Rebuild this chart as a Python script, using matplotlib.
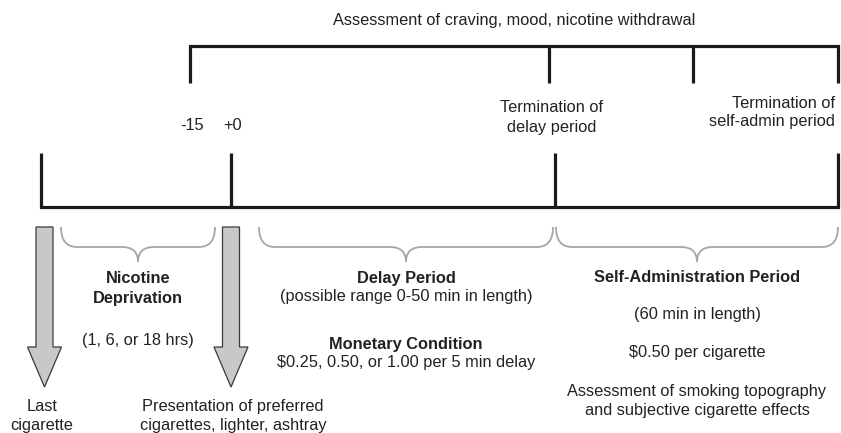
import matplotlib.pyplot as plt
from matplotlib.path import Path
from matplotlib.patches import PathPatch, FancyArrow

plt.rcParams['font.family'] = ['Liberation Sans', 'DejaVu Sans']

# layout in pixel units of the 841x433 canvas
top_ticks = [190, 549, 693, 838]          # assessment points
top_y, top_tick_end = 46, 83
time_ticks = [41, 231, 555, 838]          # timeline events
time_y, time_tick_top = 207, 153

braces = [(61, 215), (259, 553), (556, 838)]
brace_top, brace_mid, brace_tip = 227, 247, 262

arrow_x = [44.5, 231]
arrow_top, arrow_tip = 227, 387

tick_labels = ['-15', '+0']
tick_label_x = [192, 233]

black = '#1a1a1a'
brace_col = '#a6a6a6'

fig = plt.figure(figsize=(8.41, 4.33), dpi=100)
ax = fig.add_axes([0, 0, 1, 1])
ax.set_xlim(0, 841)
ax.set_ylim(433, 0)
ax.axis('off')

# top assessment bracket
ax.plot([top_ticks[0], top_ticks[0], top_ticks[-1], top_ticks[-1]],
        [top_tick_end, top_y, top_y, top_tick_end],
        color=black, lw=2.3, solid_joinstyle='miter', solid_capstyle='butt')
for x in top_ticks[1:-1]:
    ax.plot([x, x], [top_y, top_tick_end], color=black, lw=2.3, solid_capstyle='butt')

# timeline
ax.plot([time_ticks[0], time_ticks[0], time_ticks[-1], time_ticks[-1]],
        [time_tick_top, time_y, time_y, time_tick_top],
        color=black, lw=2.3, solid_joinstyle='miter', solid_capstyle='butt')
for x in time_ticks[1:-1]:
    ax.plot([x, x], [time_y, time_tick_top], color=black, lw=2.3, solid_capstyle='butt')

# curly braces
r = 16
for x0, x1 in braces:
    xm = (x0 + x1) / 2
    verts = [(x0, brace_top), (x0, brace_mid), (x0 + r, brace_mid),
             (xm - r, brace_mid), (xm, brace_mid), (xm, brace_tip),
             (xm, brace_mid), (xm + r, brace_mid),
             (x1 - r, brace_mid), (x1, brace_mid), (x1, brace_top)]
    codes = [Path.MOVETO, Path.CURVE3, Path.CURVE3,
             Path.LINETO, Path.CURVE3, Path.CURVE3,
             Path.CURVE3, Path.CURVE3,
             Path.LINETO, Path.CURVE3, Path.CURVE3]
    ax.add_patch(PathPatch(Path(verts, codes), fill=False, ec=brace_col, lw=1.3))

# down arrows
for x in arrow_x:
    ax.add_patch(FancyArrow(x, arrow_top, 0, arrow_tip - arrow_top, width=17,
                            head_width=34, head_length=40, length_includes_head=True,
                            fc='#c8c8c8', ec='#3a3a3a', lw=0.9))

fs = 11.8
tc = '#222222'
ax.text(514, 21, 'Assessment of craving, mood, nicotine withdrawal',
        ha='center', va='center', fontsize=fs, color=tc)
for lab, x in zip(tick_labels, tick_label_x):
    ax.text(x, 126, lab, ha='center', va='center', fontsize=fs, color=tc)
ax.text(552, 117.5, 'Termination of\ndelay period', ha='center', va='center',
        fontsize=fs, color=tc, linespacing=1.35)
ax.text(835, 112.5, 'Termination of\nself-admin period', ha='right', va='center',
        fontsize=fs, color=tc, linespacing=1.22)

ax.text(138, 288.5, 'Nicotine\nDeprivation', ha='center', va='center',
        fontsize=fs, color=tc, fontweight='bold', linespacing=1.47)
ax.text(138, 341, '(1, 6, or 18 hrs)', ha='center', va='center', fontsize=fs, color=tc)

ax.text(406, 278, 'Delay Period', ha='center', va='center', fontsize=fs,
        color=tc, fontweight='bold')
ax.text(406, 296, '(possible range 0-50 min in length)', ha='center', va='center',
        fontsize=fs, color=tc)
ax.text(406, 344, 'Monetary Condition', ha='center', va='center', fontsize=fs,
        color=tc, fontweight='bold')
ax.text(406, 362, '$0.25, 0.50, or 1.00 per 5 min delay', ha='center', va='center',
        fontsize=fs, color=tc)

ax.text(697, 278, 'Self-Administration Period', ha='center', va='center',
        fontsize=fs, color=tc, fontweight='bold')
ax.text(697, 315, '(60 min in length)', ha='center', va='center', fontsize=fs, color=tc)
ax.text(697, 352, '$0.50 per cigarette', ha='center', va='center', fontsize=fs, color=tc)
ax.text(697, 401, 'Assessment of smoking topography\nand subjective cigarette effects',
        ha='center', va='center', fontsize=fs, color=tc, linespacing=1.41)

ax.text(42, 416, 'Last\ncigarette', ha='center', va='center', fontsize=fs,
        color=tc, linespacing=1.41)
ax.text(233, 416, 'Presentation of preferred\ncigarettes, lighter, ashtray',
        ha='center', va='center', fontsize=fs, color=tc, linespacing=1.41)

plt.savefig('out.png', dpi=100)
